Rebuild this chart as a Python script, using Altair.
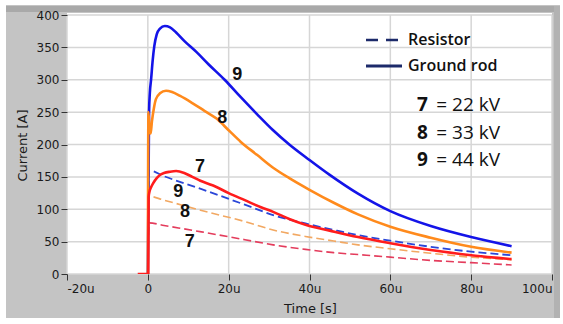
import altair as alt
import pandas as pd

# ---------------- data ----------------
# time in microseconds, current in A
# Ground rod (solid)
t9_rod = [0, 0.3, 0.5, 0.8, 1.2, 1.6, 2.2, 3.0, 4.2, 5.5, 7, 9, 12, 15, 19, 23, 27, 31, 35, 40, 45, 52, 60, 70, 80, 90]
i9_rod = [0, 250, 280, 300, 330, 352, 370, 379, 383, 381, 373, 360, 343, 324, 300, 273, 247, 222, 200, 176, 153, 124, 97, 74, 57, 43]

t8_rod = [0, 0.15, 0.4, 0.7, 1.0, 1.5, 2.0, 3.0, 4.5, 6, 8, 11, 14, 17, 20, 23, 27, 31, 35, 40, 46, 52, 60, 70, 80, 90]
i8_rod = [0, 250, 225, 217, 235, 256, 270, 279, 283, 281, 275, 264, 252, 240, 222, 204, 184, 164, 148, 130, 110, 92, 73, 56, 42, 33]

t7_rod = [-2.5, 0.1, 0.2, 0.4, 0.8, 1.3, 2.2, 3.0, 4.0, 5.5, 7.0, 9, 11, 13, 16, 20, 24, 28, 31, 35, 39, 45, 52, 60, 70, 80, 90]
i7_rod = [0, 0, 119, 127, 134, 140, 148, 153, 156, 158, 159, 156, 150, 144, 137, 125, 114, 103, 96, 85, 76, 67, 57, 47.5, 37, 29, 23]

# Resistor (dashed)
t_res = [0.15, 0.3, 4, 13.3, 24, 31, 39, 46, 52, 60, 70, 80, 90]
i9_res = [112, 160, 151, 131, 107, 91, 78, 68, 60, 51.5, 42, 34.5, 29]
i8_res = [90, 120, 114, 98, 81, 68, 58, 51, 45, 39, 32, 26, 22]
i7_res = [60, 79, 75, 65, 53, 45, 38, 33, 30, 26, 21, 17.5, 14]

# curve annotations
ann_text = ["9", "8", "7", "9", "8", "7"]
ann_t = [22.1, 18.4, 12.9, 7.5, 9.2, 10.4]
ann_i = [307, 241, 165, 127, 96, 49]

# axes
x_ticks = [-20, 0, 20, 40, 60, 80, 100]
y_ticks = [0, 50, 100, 150, 200, 250, 300, 350, 400]

legend_labels = ["Resistor", "Ground rod"]
volt_ids = ["7", "8", "9"]
volt_text = ["= 22 kV", "= 33 kV", "= 44 kV"]

# ---------------- chart ----------------
W, H = 485, 259
xs = alt.Scale(domain=[-20, 100], nice=False, zero=False)
ys = alt.Scale(domain=[0, 400], nice=False)

xaxis = alt.Axis(values=x_ticks, grid=False, domain=False, tickSize=6, tickColor="#333333",
                 labelExpr="datum.value == 0 ? '0' : datum.value + 'u'",
                 labelFont="DejaVu Sans", labelFontSize=12, labelColor="#1a1a1a", labelPadding=3,
                 title="Time [s]", titleFont="DejaVu Sans", titleFontSize=13, titleFontWeight="normal",
                 titleColor="#1a1a1a", titleX=243, titleY=34, titleBaseline="middle", titleAnchor="middle",
                 zindex=1)
yaxis = alt.Axis(values=y_ticks, grid=False, domain=False, tickSize=6, tickColor="#333333",
                 labelFont="DejaVu Sans", labelFontSize=12, labelColor="#1a1a1a", labelPadding=2,
                 title="Current [A]", titleFont="DejaVu Sans", titleFontSize=13, titleFontWeight="normal",
                 titleColor="#1a1a1a", titleX=-45, titleY=130, titleAngle=-90, titleBaseline="middle",
                 titleAlign="center", zindex=1)


def X(field):
    return alt.X(field, type="quantitative", scale=xs, axis=xaxis)


def Y(field):
    return alt.Y(field, type="quantitative", scale=ys, axis=yaxis)


one = pd.DataFrame({"a": [0]})

panel = alt.Chart(one).mark_rect(color="#c4c4c4", clip=False).encode(
    x=alt.value(-61), x2=alt.value(493), y=alt.value(-10), y2=alt.value(303))
bevel = alt.Chart(one).mark_rect(color="#a9a9a9", clip=False).encode(
    x=alt.value(-61), x2=alt.value(493), y=alt.value(-9), y2=alt.value(-3))
edge = alt.Chart(one).mark_rect(color="#b2b2b2", clip=False).encode(
    x=alt.value(487), x2=alt.value(493), y=alt.value(-9), y2=alt.value(303))
plotbg = alt.Chart(one).mark_rect(color="white", clip=False).encode(
    x=alt.value(0), x2=alt.value(W), y=alt.value(-2), y2=alt.value(H))

gridx = alt.Chart(pd.DataFrame({"t": x_ticks})).mark_rule(color="#d6d6d6", strokeWidth=1.5).encode(
    x=X("t"))
gridy = alt.Chart(pd.DataFrame({"v": y_ticks})).mark_rule(color="#d6d6d6", strokeWidth=1.5).encode(
    y=Y("v"))


def curve(t, v, color, width, dash=None):
    df = pd.DataFrame({"t": t, "v": v, "i": list(range(len(t)))})
    kw = dict(color=color, strokeWidth=width, clip=True, interpolate="monotone")
    if dash:
        kw["strokeDash"] = dash
    return alt.Chart(df).mark_line(**kw).encode(
        x=X("t"), y=Y("v"), order=alt.Order("i:Q"))


dash = [8, 4]
lines = [
    curve(t_res, i7_res, "#e43c5c", 1.6, dash),
    curve(t_res, i8_res, "#f2a862", 1.6, dash),
    curve(t_res, i9_res, "#2a46d8", 1.8, dash),
    curve(t9_rod, i9_rod, "#1414e8", 2.6),
    curve(t8_rod, i8_rod, "#ff8a1c", 2.6),
    curve(t7_rod, i7_rod, "#ff1c1c", 2.6),
]

ann = alt.Chart(pd.DataFrame({"t": ann_t, "v": ann_i, "s": ann_text})).mark_text(
    font="Liberation Sans", fontSize=18, fontWeight="bold", color="#111111",
    align="center", baseline="middle").encode(
    x=X("t"), y=Y("v"), text="s:N")

navy = "#1c2a6a"
leg_dash = alt.Chart(one).mark_rule(color=navy, strokeWidth=2.6, strokeDash=[12, 8], clip=False).encode(
    x=alt.value(299), x2=alt.value(331), y=alt.value(25))
leg_solid = alt.Chart(one).mark_rule(color=navy, strokeWidth=2.8, clip=False).encode(
    x=alt.value(299), x2=alt.value(335), y=alt.value(51))
leg_text = [
    alt.Chart(one).mark_text(text=lab, font="Open Sans", fontSize=16, fontWeight=600, color="#111111",
                             align="left", baseline="middle").encode(
        x=alt.value(341), y=alt.value(25 + 26 * k))
    for k, lab in enumerate(legend_labels)
]
volt_layers = []
for k, (vid, vt) in enumerate(zip(volt_ids, volt_text)):
    yy = 90 + 27.5 * k
    volt_layers.append(alt.Chart(one).mark_text(text=vid, font="Open Sans", fontSize=19, fontWeight="bold",
                                                color="#111111", align="left", baseline="middle").encode(
        x=alt.value(350), y=alt.value(yy)))
    volt_layers.append(alt.Chart(one).mark_text(text=vt, font="Open Sans", fontSize=19, color="#111111",
                                                align="right", baseline="middle").encode(
        x=alt.value(433), y=alt.value(yy)))

chart = alt.layer(
    panel, bevel, edge, plotbg, gridx, gridy, *lines, ann, leg_dash, leg_solid, *leg_text, *volt_layers
).properties(
    width=W, height=H,
    autosize=alt.AutoSizeParams(type="none"),
    padding={"left": 67, "top": 15, "right": 11, "bottom": 50},
    background="white",
).configure_view(stroke=None)

chart.save("out.html", embed_options={"renderer": "svg", "actions": False})
